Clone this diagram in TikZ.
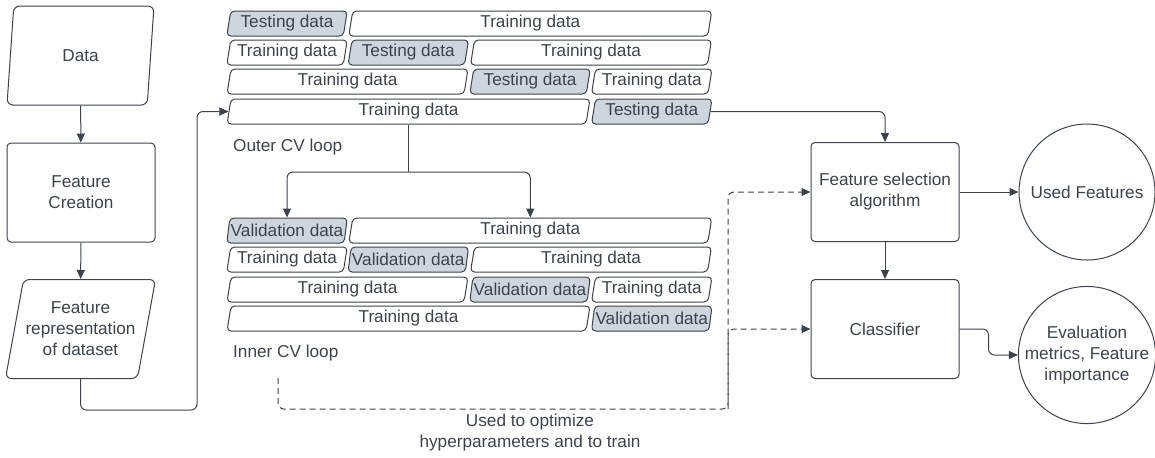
\documentclass[tikz,border=0pt]{standalone}
\usepackage{fontspec}
\setmainfont{Liberation Sans}
\usetikzlibrary{shapes.geometric,arrows.meta}

\definecolor{ink}{HTML}{3C434D}
\definecolor{foldgray}{HTML}{CFD5DC}

% text of a fold may run over its slanted edges
\newcommand{\celltext}[1]{\makebox[0pt]{#1}}

\tikzset{
  every node/.style={font=\fontsize{8.6}{10.5}\selectfont},
  fold/.style={draw,trapezium,trapezium left angle=76,trapezium right angle=104,
    trapezium stretches body,rounded corners=2pt,minimum height=12.5pt,inner sep=0pt},
  testfold/.style={fold,fill=foldgray},
  wone/.style={minimum width=60.25pt},
  wtwo/.style={minimum width=120.5pt},
  wthree/.style={minimum width=181.5pt},
  io/.style={draw,trapezium,trapezium left angle=75,trapezium right angle=105,
    trapezium stretches body,rounded corners=3pt,minimum width=73.5pt,minimum height=49.5pt,
    inner xsep=1pt,align=center},
  box/.style={draw,rectangle,rounded corners=2pt,minimum width=74pt,minimum height=49.5pt,align=center},
  round/.style={draw,circle,minimum size=68pt,inner sep=0pt,align=center}
}

\begin{document}
\begin{tikzpicture}[x=0.5pt,y=-0.5pt,line width=0.5pt,color=ink,>={Triangle[length=4.5pt,width=4pt]}]
        \useasboundingbox (0,0) rectangle (1155,457);

        % data preparation
        \node[io] (data) at (80.5,55.5) {Data};
        \node[box] (creation) at (81,192.5) {Feature\\Creation};
        \node[io] (rep) at (80.5,329) {Feature\\representation\\of dataset};
        \draw[->] (data) -- (creation);
        \draw[->] (creation) -- (rep);

        % outer CV loop
        \node[testfold,wone] (o1a) at (287,23.5) {\celltext{Testing data}};
        \node[fold,wthree] (o1b) at (530.25,23.5) {\celltext{Training data}};
        \node[fold,wone] (o2a) at (287,52.5) {\celltext{Training data}};
        \node[testfold,wone] (o2b) at (408.25,52.5) {\celltext{Testing data}};
        \node[fold,wtwo] (o2c) at (591,52.5) {\celltext{Training data}};
        \node[fold,wtwo] (o3a) at (347.5,81.5) {\celltext{Training data}};
        \node[testfold,wone] (o3b) at (530,81.5) {\celltext{Testing data}};
        \node[fold,wone] (o3c) at (651.75,81.5) {\celltext{Training data}};
        \node[fold,wthree] (o4a) at (408.5,111.5) {\celltext{Training data}};
        \node[testfold,wone] (o4b) at (651.75,111.5) {\celltext{Testing data}};
        \node[anchor=west] (outerlbl) at (226,147) {Outer CV loop};

        % inner CV loop
        \node[testfold,wone] (i1a) at (287,230.5) {\celltext{Validation data}};
        \node[fold,wthree] (i1b) at (530.25,230.5) {\celltext{Training data}};
        \node[fold,wone] (i2a) at (287,259.5) {\celltext{Training data}};
        \node[testfold,wone] (i2b) at (408.25,259.5) {\celltext{Validation data}};
        \node[fold,wtwo] (i2c) at (591,259.5) {\celltext{Training data}};
        \node[fold,wtwo] (i3a) at (347.5,289.5) {\celltext{Training data}};
        \node[testfold,wone] (i3b) at (530,289.5) {\celltext{Validation data}};
        \node[fold,wone] (i3c) at (651.75,289.5) {\celltext{Training data}};
        \node[fold,wthree] (i4a) at (408.5,318.5) {\celltext{Training data}};
        \node[testfold,wone] (i4b) at (651.75,318.5) {\celltext{Validation data}};
        \node[anchor=west] (innerlbl) at (226,353) {Inner CV loop};

        % dataset into the outer loop
        \coordinate (bend) at (197,410);
        \draw[->,rounded corners=3pt] (rep.south) |- (bend) |- (o4a.west);

        % outer training data into the inner loop
        \coordinate (split) at (408.5,172);
        \draw (o4a.south) -- (split);
        \draw[->,rounded corners=3pt] (split) -| (i1a.north);
        \draw[->,rounded corners=3pt] (split) -| (i1b.north);

        % model side
        \node[box] (fs) at (885,192) {Feature selection\\algorithm};
        \node[box] (cls) at (885,329) {Classifier};
        \node[round] (used) at (1087,192) {Used Features};
        \node[round] (eval) at (1087,355) {Evaluation\\metrics, Feature\\importance};

        \draw[->,rounded corners=3pt] (o4b.east) -| (fs.north);
        \draw[->] (fs) -- (used);
        \draw[->] (fs) -- (cls);
        \draw[->,rounded corners=3pt] (cls.east) -- ++(29,0) |- (eval.west);

        % inner loop used for tuning
        \coordinate (innerout) at (278,378);
        \coordinate (dashbend) at (728,409);
        \draw[->,dash pattern=on 3pt off 2pt,rounded corners=3pt] (innerout) |- (dashbend) |- (fs.west);
        \draw[->,dash pattern=on 3pt off 2pt,rounded corners=3pt] (dashbend) |- (cls.west);
        \node[align=center] (usedfor) at (530,433) {Used to optimize\\hyperparameters and to train};

\end{tikzpicture}
\end{document}
